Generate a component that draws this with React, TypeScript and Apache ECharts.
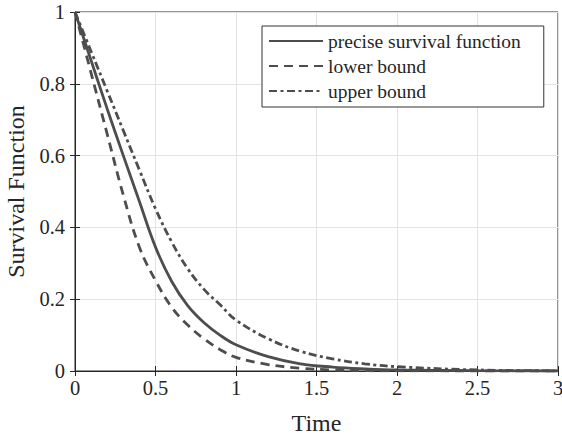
import React, { useEffect, useRef } from "react";
import * as echarts from "echarts";

const timePoints = [0, 0.1, 0.2, 0.3, 0.4, 0.5, 0.6, 0.7, 0.8, 0.9, 1.0, 1.2, 1.4, 1.6, 1.8, 2.0, 2.5, 3.0];
const preciseValues = [1, 0.865, 0.73, 0.6, 0.472, 0.345, 0.25, 0.182, 0.135, 0.1, 0.073, 0.04, 0.02, 0.011, 0.006, 0.003, 0.0008, 0];
const lowerValues = [1, 0.83, 0.66, 0.49, 0.345, 0.252, 0.178, 0.128, 0.09, 0.06, 0.038, 0.018, 0.008, 0.003, 0.001, 0.0005, 0, 0];
const upperValues = [1, 0.89, 0.78, 0.67, 0.56, 0.452, 0.36, 0.285, 0.228, 0.185, 0.142, 0.09, 0.055, 0.034, 0.02, 0.012, 0.003, 0.0005];
const seriesNames = ["precise survival function", "lower bound", "upper bound"];
const xTicks = { min: 0, max: 3, interval: 0.5 };
const yTicks = { min: 0, max: 1, interval: 0.2 };

const FONT = '"Liberation Serif", "Times New Roman", serif';
const LINE = "#4d4d4d";
const AXIS = "#262626";

export default function App() {
  const ref = useRef<HTMLDivElement>(null);
  useEffect(() => {
    if (!ref.current) return;
    const chart = echarts.init(ref.current, undefined, { renderer: "svg" });
    const pair = (vals: number[]) => timePoints.map((t, i) => [t, vals[i]]);
    const mkSeries = (name: string, vals: number[], type: any) => ({
      name,
      type: "line",
      data: pair(vals),
      showSymbol: false,
      symbol: "none",
      smooth: 0.4,
      lineStyle: { color: LINE, width: 2.8, type, cap: "butt" },
      itemStyle: { color: LINE },
      xAxisIndex: 0,
      yAxisIndex: 0,
    });
    const tickStyle = { show: true, inside: true, length: 5, lineStyle: { color: AXIS, width: 1 } };
    chart.setOption({
      animation: false,
      grid: {
        left: 75,
        right: 4,
        top: 12,
        bottom: 66,
        containLabel: false,
        outerBoundsMode: "none",
        show: true,
        borderColor: AXIS,
        borderWidth: 1,
      },
      legend: {
        orient: "vertical",
        left: 262,
        top: 26,
        padding: [5, 23, 6, 6],
        itemWidth: 54,
        itemHeight: 20,
        itemGap: 5,
        backgroundColor: "#fff",
        borderColor: "#333",
        borderWidth: 1,
        borderRadius: 0,
        itemStyle: { opacity: 0 },
        textStyle: { fontFamily: FONT, fontSize: 19.5, color: AXIS },
        data: seriesNames,
      },
      xAxis: [
        {
          type: "value",
          min: xTicks.min,
          max: xTicks.max,
          interval: xTicks.interval,
          name: "Time",
          nameLocation: "middle",
          nameGap: 40,
          nameTextStyle: { fontFamily: FONT, fontSize: 24, color: AXIS },
          axisLine: { show: true, lineStyle: { color: AXIS, width: 1 } },
          axisTick: tickStyle,
          axisLabel: { fontFamily: FONT, fontSize: 20.5, color: AXIS, margin: 6 },
          splitLine: { show: true, lineStyle: { color: "#e3e3e3", width: 1 } },
        },
        {
          type: "value",
          position: "top",
          min: xTicks.min,
          max: xTicks.max,
          interval: xTicks.interval,
          axisLine: { show: true, lineStyle: { color: AXIS, width: 1 } },
          axisTick: tickStyle,
          axisLabel: { show: false },
          splitLine: { show: false },
        },
      ],
      yAxis: [
        {
          type: "value",
          min: yTicks.min,
          max: yTicks.max,
          interval: yTicks.interval,
          name: "Survival Function",
          nameLocation: "middle",
          nameGap: 47,
          nameTextStyle: { fontFamily: FONT, fontSize: 24, color: AXIS },
          axisLine: { show: true, lineStyle: { color: AXIS, width: 1 } },
          axisTick: tickStyle,
          axisLabel: { fontFamily: FONT, fontSize: 20.5, color: AXIS, margin: 10 },
          splitLine: { show: true, lineStyle: { color: "#e3e3e3", width: 1 } },
        },
        {
          type: "value",
          position: "right",
          min: yTicks.min,
          max: yTicks.max,
          interval: yTicks.interval,
          axisLine: { show: true, lineStyle: { color: AXIS, width: 1 } },
          axisTick: tickStyle,
          axisLabel: { show: false },
          splitLine: { show: false },
        },
      ],
      series: [
        mkSeries(seriesNames[0], preciseValues, "solid"),
        mkSeries(seriesNames[1], lowerValues, [9, 6]),
        mkSeries(seriesNames[2], upperValues, [8, 3.5, 3, 3.5]),
      ],
    });
    return () => chart.dispose();
  }, []);
  return <div ref={ref} style={{ width: 562, height: 437, position: "absolute", left: 0, top: 0 }} />;
}
